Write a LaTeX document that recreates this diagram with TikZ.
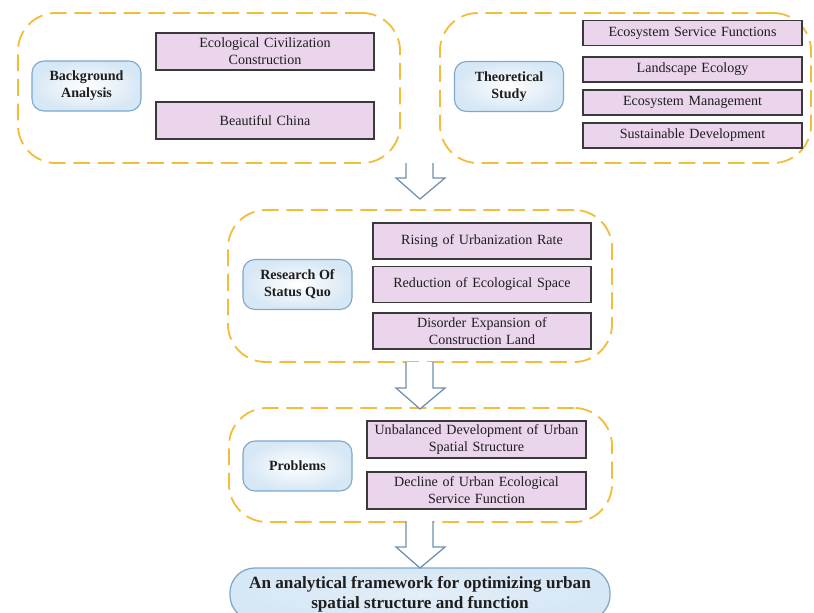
\documentclass[tikz,border=0pt]{standalone}
\usepackage{fontspec}
\setmainfont{Liberation Serif}
\usetikzlibrary{positioning}
\definecolor{fwdash}{HTML}{F3BD3C}
\definecolor{fwpink}{HTML}{EAD5EC}
\definecolor{fwink}{HTML}{1E1E1E}
\definecolor{fwline}{HTML}{3A3A3A}
\definecolor{fwblue}{HTML}{7EA8CC}
\definecolor{fwbluefill}{HTML}{D6E7F5}
\definecolor{fwarrow}{HTML}{6E8FB2}
\tikzset{
  fwgroup/.style={
    draw=fwdash, line width=1.3pt, dash pattern=on 12pt off 5.5pt,
    rounded corners=0.95cm, fill=white},
  fwitem/.style={
    draw=fwline, fill=fwpink, line width=0.8pt, minimum width=5.45cm,
    text width=5.2cm, align=center, inner sep=1pt, text=fwink,
    font=\fontsize{10}{12}\selectfont},
  fwtopic/.style={
    draw=fwblue, line width=0.8pt, rounded corners=0.3cm,
    inner color=white, outer color=fwbluefill,
    minimum width=2.725cm, minimum height=1.25cm, align=center,
    text=fwink, font=\fontsize{10}{12}\selectfont\bfseries},
  fwresult/.style={
    draw=fwblue, line width=0.9pt, rounded corners=0.62cm,
    inner color=fwbluefill!70, outer color=fwbluefill,
    minimum width=9.5cm, minimum height=1.3cm, align=center,
    text=fwink, font=\fontsize{12.2}{14.4}\selectfont\bfseries},
  fwflow/.style={draw=fwarrow, fill=white, line width=0.9pt, line join=miter},
}
\begin{document}
\begin{tikzpicture}[x=0.025cm, y=-0.025cm]
\useasboundingbox (0, 0) rectangle (814, 612);

% Background analysis.
\node[fwgroup, minimum width=9.55cm, minimum height=3.75cm] (bggroup)
  at (209, 88) {};
\node[fwtopic] (background) at (86.5, 86) {Background\\Analysis};
\node[fwitem, minimum height=0.925cm] (civil) at (265, 51.5)
  {Ecological Civilization\\Construction};
\node[fwitem, minimum height=0.925cm] (china) at (265, 120.5)
  {Beautiful China};

% Theoretical study.
\node[fwgroup, minimum width=9.275cm, minimum height=3.75cm] (thgroup)
  at (625.5, 88) {};
\node[fwtopic] (theory) at (509, 86.5) {Theoretical\\Study};
\foreach \name/\y/\label in {service/33/Ecosystem Service Functions,
    landscape/69.5/Landscape Ecology,
    management/102.5/Ecosystem Management,
    sustain/135.5/Sustainable Development} {
  \node[fwitem, minimum height=0.625cm, minimum width=5.475cm] (\name)
    at (692.5, \y) {\label};
}

% Research of status quo.
\node[fwgroup, minimum width=9.6cm, minimum height=3.8cm] (sqgroup)
  at (420, 286) {};
\node[fwtopic] (status) at (297.5, 284.5) {Research Of\\Status Quo};
\node[fwitem, minimum height=0.9cm] (rising) at (482, 241)
  {Rising of Urbanization Rate};
\node[fwitem, minimum height=0.9cm] (reduction) at (482, 284.5)
  {Reduction of Ecological Space};
\node[fwitem, minimum height=0.9cm] (disorder) at (482, 331)
  {Disorder Expansion of\\Construction Land};

% Problems.
\node[fwgroup, minimum width=9.575cm, minimum height=2.85cm] (prgroup)
  at (420.5, 465) {};
\node[fwtopic] (problems) at (297.5, 466) {Problems};
\node[fwitem, minimum height=0.925cm, minimum width=5.475cm] (unbalanced)
  at (476.5, 439.5) {Unbalanced Development of Urban\\Spatial Structure};
\node[fwitem, minimum height=0.925cm, minimum width=5.475cm] (decline)
  at (476.5, 490.5) {Decline of Urban Ecological\\Service Function};

% Result.
\node[fwresult] (framework) at (420, 594)
  {An analytical framework for optimizing urban\\spatial structure and function};

% Block arrows between the stages.
\foreach \top/\tip in {163/199, 362/409, 521/568} {
  \draw[fwflow] (406, \top) -- (406, \tip-21) -- (396, \tip-21)
    -- (420, \tip) -- (445, \tip-21) -- (433, \tip-21) -- (433, \top);
}

\end{tikzpicture}
\end{document}
